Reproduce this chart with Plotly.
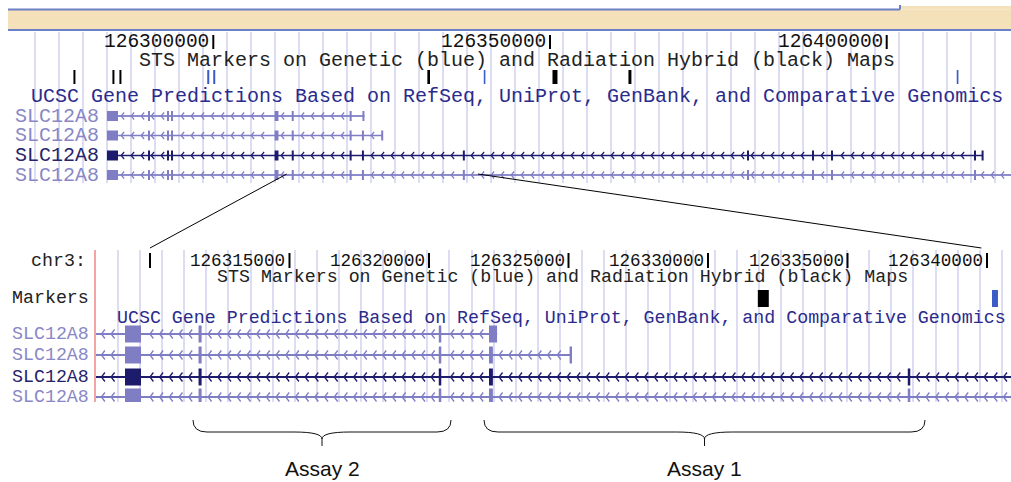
import plotly.graph_objects as go

W, H = 1011, 482

# ---------------- data (genomic coordinates, chr3) ----------------
TOP_TICKS = [126300000, 126350000, 126400000]
TOP_TICK_LABELS = ["126300000", "126350000", "126400000"]
BOT_TICKS = [126310000, 126315000, 126320000, 126325000, 126330000, 126335000, 126340000]
BOT_TICK_LABELS = ["", "126315000", "126320000", "126325000", "126330000", "126335000", "126340000"]

# STS markers: RH = radiation hybrid (black), GEN = genetic (blue)
MARKER_START = [126279230, 126285020, 126286060, 126299100, 126299990, 126331786, 126340179, 126350370, 126361650, 126410400]
MARKER_END = [126279527, 126285317, 126286357, 126299400, 126300290, 126332179, 126340393, 126351110, 126362090, 126410650]
MARKER_MAP = ["RH", "RH", "RH", "GEN", "GEN", "RH", "GEN", "RH", "RH", "GEN"]

TX_NAMES = ["SLC12A8", "SLC12A8", "SLC12A8", "SLC12A8"]
TX_HIGHLIGHT = [False, False, True, False]
TX_START = [126284215, 126284215, 126284215, 126284215]
TX_END = [126322440, 126325126, 126414301, 126445000]
TX1_EXONS = [[126284215, 126285848], [126290380, 126290520], [126293200, 126293340], [126293800, 126293940],
             [126309104, 126309678], [126311740, 126311850], [126320350, 126320440], [126322150, 126322440]]
TX2_EXONS = [[126284215, 126285848], [126290380, 126290520], [126293200, 126293340], [126293800, 126293940],
             [126309104, 126309678], [126311740, 126311850], [126320350, 126320440], [126322150, 126322290],
             [126325040, 126325126]]
TX3_EXONS = [[126284215, 126285848], [126290380, 126290520], [126293200, 126293340], [126293800, 126293940],
             [126309104, 126309678], [126311740, 126311850], [126320350, 126320440], [126322150, 126322290],
             [126337160, 126337250], [126379340, 126379460], [126389000, 126389110], [126391820, 126391930],
             [126413050, 126413170], [126414180, 126414301]]
TX4_EXONS = [[126284215, 126285848], [126290380, 126290520], [126293200, 126293340], [126293800, 126293940],
             [126309104, 126309678], [126311740, 126311850], [126320350, 126320440], [126322150, 126322290],
             [126337160, 126337250], [126379340, 126379460], [126389000, 126389110], [126391820, 126391930],
             [126413050, 126413170]]
TX_EXONS = [TX1_EXONS, TX2_EXONS, TX3_EXONS, TX4_EXONS]

ASSAY_NAMES = ["Assay 2", "Assay 1"]
ASSAY_START = [126311541, 126321972]
ASSAY_END = [126320789, 126337778]

ZOOM_TOP = [126310900, 126339300]
ZOOM_BOTTOM = [126310000, 126339800]

# ---------------- layout / style ----------------
TOP_VIEW = [126271295, 126418459]
TOP_DOMAIN = [20 / W, 1.0]
BOT_VIEW = [126308029, 126340860]
BOT_DOMAIN = [95 / W, 1.0]

MONO = "Liberation Mono"
LIGHT = "#7f7dc4"
DARK = "#1d1b6c"
LABEL_LIGHT = "#8987c6"
LABEL_DARK = "#25236a"
GRID = "#dcdcf3"
TITLE_BLUE = "#2b2b8c"

PANELS = {
    "top": dict(xa="x", ya="y", view=TOP_VIEW, dom=TOP_DOMAIN, rows=[116, 135.5, 155.5, 175],
                exon_h=10, step=10, cw=3, ch=3.5, lw=1.5, cwid=1.2, minw=2.0,
                mk=(70, 84), mkmin=1.6, fs=20, tick_y=42, pipe=(35, 49),
                label_x=101, grid0=126273523, gridd=3564),
    "bot": dict(xa="x2", ya="y2", view=BOT_VIEW, dom=BOT_DOMAIN, rows=[334, 355, 377, 397],
                exon_h=17, step=9.7, cw=3.5, ch=4.5, lw=2.0, cwid=1.3, minw=2.2,
                mk=(290, 307), mkmin=2.0, fs=18.3, tick_y=261, pipe=(253, 268),
                label_x=91, grid0=126308853, gridd=792),
}


def scale(p):
    return (p["dom"][1] - p["dom"][0]) * W / (p["view"][1] - p["view"][0])


def to_paper_x(g, p):
    return p["dom"][0] + (g - p["view"][0]) / (p["view"][1] - p["view"][0]) * (p["dom"][1] - p["dom"][0])


def py(v):
    return 1 - v / H


fig = go.Figure()
shapes = []
annotations = []

for key, p in PANELS.items():
    s = scale(p)
    lo, hi = p["view"]
    for i in range(len(TX_NAMES)):
        color = DARK if TX_HIGHLIGHT[i] else LIGHT
        yc = p["rows"][i]
        xs = [TX_START[i], TX_END[i], None]
        ys = [yc, yc, None]
        # strand arrows (minus strand) along introns
        step = p["step"] / s
        w = p["cw"] / s
        a = max(TX_START[i], lo)
        b = min(TX_END[i], hi)
        g = (int(a // step) + 1) * step
        while g < b - w:
            inside = any(e0 - w * 1.2 <= g <= e1 + w * 0.3 for e0, e1 in TX_EXONS[i])
            if not inside:
                xs += [g + w, g, g + w, None]
                ys += [yc - p["ch"], yc, yc + p["ch"], None]
            g += step
        fig.add_trace(go.Scatter(x=xs, y=ys, xaxis=p["xa"], yaxis=p["ya"], mode="lines",
                                 line=dict(color=color, width=p["cwid"]), hoverinfo="skip",
                                 showlegend=False))
        fig.add_trace(go.Scatter(x=[TX_START[i], TX_END[i]], y=[yc, yc], xaxis=p["xa"], yaxis=p["ya"],
                                 mode="lines", line=dict(color=color, width=p["lw"]),
                                 hoverinfo="skip", showlegend=False))
        for e0, e1 in TX_EXONS[i]:
            minw = p["minw"] / s
            if e1 - e0 < minw:
                c = (e0 + e1) / 2
                e0, e1 = c - minw / 2, c + minw / 2
            shapes.append(dict(type="rect", xref=p["xa"], yref=p["ya"], x0=e0, x1=e1,
                               y0=yc - p["exon_h"] / 2, y1=yc + p["exon_h"] / 2,
                               fillcolor=color, line=dict(width=0), layer="above"))
        annotations.append(dict(x=p["label_x"] / W, y=py(yc), xref="paper", yref="paper",
                                text=TX_NAMES[i], showarrow=False, xanchor="right", yanchor="middle",
                                font=dict(family=MONO, size=p["fs"],
                                          color=LABEL_DARK if TX_HIGHLIGHT[i] else LABEL_LIGHT)))
    # markers
    for m0, m1, kind in zip(MARKER_START, MARKER_END, MARKER_MAP):
        minw = p["mkmin"] / s
        if m1 - m0 < minw:
            c = (m0 + m1) / 2
            m0, m1 = c - minw / 2, c + minw / 2
        shapes.append(dict(type="rect", xref=p["xa"], yref=p["ya"], x0=m0, x1=m1,
                           y0=p["mk"][0], y1=p["mk"][1],
                           fillcolor="#000000" if kind == "RH" else "#3b5cc6",
                           line=dict(width=0)))

# ---- top panel texts / ticks ----
pt = PANELS["top"]
for t, lab in zip(TOP_TICKS, TOP_TICK_LABELS):
    shapes.append(dict(type="line", xref="x", yref="y", x0=t, x1=t, y0=pt["pipe"][0], y1=pt["pipe"][1],
                       line=dict(color="#000", width=2)))
    annotations.append(dict(x=t, y=py(pt["tick_y"]), xref="x", yref="paper", text=lab, showarrow=False,
                            xanchor="right", yanchor="middle", xshift=-2,
                            font=dict(family=MONO, size=19.5, color="#111")))
annotations.append(dict(x=516.5 / W, y=py(60), xref="paper", yref="paper", showarrow=False,
                        text="STS Markers on Genetic (blue) and Radiation Hybrid (black) Maps",
                        xanchor="center", yanchor="middle", font=dict(family=MONO, size=20, color="#222")))
annotations.append(dict(x=516.5 / W, y=py(97), xref="paper", yref="paper", showarrow=False,
                        text="UCSC Gene Predictions Based on RefSeq, UniProt, GenBank, and Comparative Genomics",
                        xanchor="center", yanchor="middle", font=dict(family=MONO, size=20, color=TITLE_BLUE)))

# ---- bottom panel texts / ticks ----
pb = PANELS["bot"]
for t, lab in zip(BOT_TICKS, BOT_TICK_LABELS):
    shapes.append(dict(type="line", xref="x2", yref="y2", x0=t, x1=t, y0=pb["pipe"][0], y1=pb["pipe"][1],
                       line=dict(color="#000", width=2)))
    if lab:
        annotations.append(dict(x=t, y=py(pb["tick_y"]), xref="x2", yref="paper", text=lab, showarrow=False,
                                xanchor="right", yanchor="middle", xshift=-2,
                                font=dict(family=MONO, size=17.6, color="#111")))
annotations.append(dict(x=88 / W, y=py(261), xref="paper", yref="paper", text="chr3:", showarrow=False,
                        xanchor="right", yanchor="middle", font=dict(family=MONO, size=18.3, color="#222")))
annotations.append(dict(x=91 / W, y=py(298), xref="paper", yref="paper", text="Markers", showarrow=False,
                        xanchor="right", yanchor="middle", font=dict(family=MONO, size=18.3, color="#222")))
annotations.append(dict(x=562.5 / W, y=py(277), xref="paper", yref="paper", showarrow=False,
                        text="STS Markers on Genetic (blue) and Radiation Hybrid (black) Maps",
                        xanchor="center", yanchor="middle", font=dict(family=MONO, size=18.3, color="#222")))
annotations.append(dict(x=561.5 / W, y=py(318), xref="paper", yref="paper", showarrow=False,
                        text="UCSC Gene Predictions Based on RefSeq, UniProt, GenBank, and Comparative Genomics",
                        xanchor="center", yanchor="middle", font=dict(family=MONO, size=18.3, color=TITLE_BLUE)))

# red left border of zoomed view
shapes.append(dict(type="line", xref="x2 domain", yref="y2 domain", x0=0, x1=0, y0=0, y1=1,
                   line=dict(color="#f3a5a5", width=2)))

# ---- header band ----
shapes += [
    dict(type="rect", xref="paper", yref="paper", x0=8 / W, x1=1, y0=py(30), y1=py(9.5),
         fillcolor="#f4e1b9", line=dict(width=0), layer="below"),
    dict(type="rect", xref="paper", yref="paper", x0=900 / W, x1=1, y0=py(9.5), y1=py(6),
         fillcolor="#f4e1b9", line=dict(width=0), layer="below"),
    dict(type="line", xref="paper", yref="paper", x0=8 / W, x1=900 / W, y0=py(9.5), y1=py(9.5),
         line=dict(color="#6b80c6", width=2)),
    dict(type="line", xref="paper", yref="paper", x0=900 / W, x1=900 / W, y0=py(9.5), y1=py(5),
         line=dict(color="#6b80c6", width=2)),
    dict(type="line", xref="paper", yref="paper", x0=8 / W, x1=1, y0=py(30), y1=py(30),
         line=dict(color="#6b80c6", width=2)),
]

# ---- zoom connector lines ----
for gt, gb in zip(ZOOM_TOP, ZOOM_BOTTOM):
    shapes.append(dict(type="line", xref="paper", yref="paper",
                       x0=to_paper_x(gt, pt), y0=py(174), x1=to_paper_x(gb, pb), y1=py(248),
                       line=dict(color="#000", width=1)))

# ---- assay braces ----
r = 14 / scale(pb)
for name, a, b in zip(ASSAY_NAMES, ASSAY_START, ASSAY_END):
    c = (a + b) / 2
    yt, ym, yb = py(420), py(432), py(446)
    yk = py(439)
    path = (f"M {a},{yt} Q {a},{ym} {a + r},{ym} L {c - 2 * r},{ym} Q {c},{ym} {c},{yk} L {c},{yb} "
            f"M {c},{yk} Q {c},{ym} {c + 2 * r},{ym} L {b - r},{ym} Q {b},{ym} {b},{yt}")
    shapes.append(dict(type="path", xref="x2", yref="paper", path=path,
                       line=dict(color="#111", width=1)))
    annotations.append(dict(x=c, y=py(468), xref="x2", yref="paper", text=name, showarrow=False,
                            xanchor="center", yanchor="middle",
                            font=dict(family="Liberation Sans Narrow, Liberation Sans, Arial", size=21,
                                      color="#111")))

axis_common = dict(showticklabels=False, ticks="", zeroline=False, showline=False, fixedrange=True)
fig.update_layout(
    width=W, height=H, margin=dict(l=0, r=0, t=0, b=0),
    paper_bgcolor="white", plot_bgcolor="white", showlegend=False,
    xaxis=dict(domain=TOP_DOMAIN, range=TOP_VIEW, anchor="y", showgrid=True, gridcolor=GRID, gridwidth=2,
               tick0=pt["grid0"], dtick=pt["gridd"], **axis_common),
    yaxis=dict(domain=[py(183), py(32)], range=[183, 32], anchor="x", showgrid=False, **axis_common),
    xaxis2=dict(domain=BOT_DOMAIN, range=BOT_VIEW, anchor="y2", showgrid=True, gridcolor=GRID, gridwidth=2,
                tick0=pb["grid0"], dtick=pb["gridd"], **axis_common),
    yaxis2=dict(domain=[py(402), py(250)], range=[402, 250], anchor="x2", showgrid=False, **axis_common),
    shapes=shapes, annotations=annotations,
)

fig.write_html("out.html", config={"displayModeBar": False},
               post_script="document.body.style.margin='0px';document.body.style.overflow='hidden';")
